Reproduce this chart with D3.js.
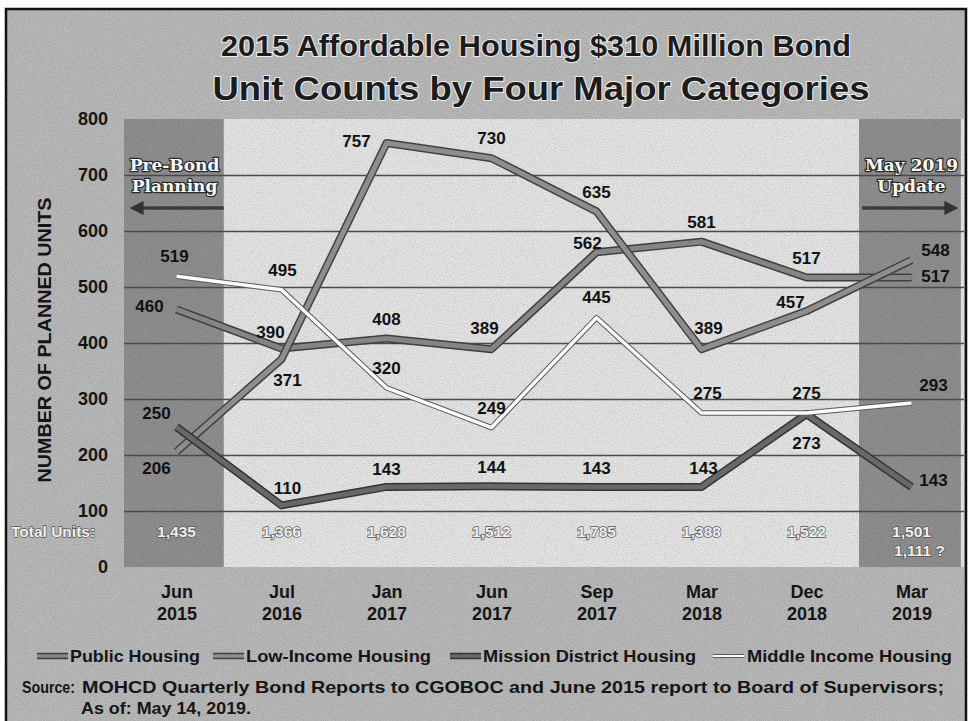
<!DOCTYPE html>
<html>
<head>
<meta charset="utf-8">
<script src="https://cdn.jsdelivr.net/npm/d3@7"></script>
<style>
  body { margin: 0; background: #fff; }
  svg text { font-family: "Liberation Sans", Arial, sans-serif; font-weight: bold; }
</style>
</head>
<body>
<div id="chart"></div>
<script>
// ---- data ----
const categories = ['Jun 2015', 'Jul 2016', 'Jan 2017', 'Jun 2017', 'Sep 2017', 'Mar 2018', 'Dec 2018', 'Mar 2019'];
const publicHousing = [460, 390, 408, 389, 562, 581, 517, 517];
const lowIncomeHousing = [206, 371, 757, 730, 635, 389, 457, 548];
const missionDistrictHousing = [250, 110, 143, 144, 143, 143, 273, 143];
const middleIncomeHousing = [519, 495, 320, 249, 445, 275, 275, 293];
const totalUnits = ['1,435', '1,366', '1,628', '1,512', '1,785', '1,388', '1,522', '1,501'];
const yTicks = [0, 100, 200, 300, 400, 500, 600, 700, 800];

const width = 971, height = 721;

const svg = d3.select('#chart').append('svg')
  .attr('width', width)
  .attr('height', height);

// scan-like grain
const defs = svg.append('defs');
const grain = defs.append('filter').attr('id', 'grain').attr('x', 0).attr('y', 0).attr('width', 1).attr('height', 1);
grain.append('feTurbulence').attr('type', 'fractalNoise').attr('baseFrequency', 0.9).attr('numOctaves', 2).attr('seed', 3);
grain.append('feColorMatrix').attr('type', 'matrix')
  .attr('values', '0 0 0 0 0  0 0 0 0 0  0 0 0 0 0  0 0 0 -1.6 1.05');

// background + frame
svg.append('rect').attr('x', 6).attr('y', 9).attr('width', 960).attr('height', 730)
  .attr('fill', '#bababa').attr('stroke', '#111').attr('stroke-width', 2.5);

const x = d3.scalePoint().domain(categories).range([124, 964]).padding(0.5);
const y = d3.scaleLinear().domain([0, 800]).range([567, 119]);
const step = x.step();

// plot area: light centre, darker bands for pre-bond and update columns
svg.append('rect')
  .attr('x', x(categories[0]) - step / 2).attr('y', y(800))
  .attr('width', x(categories[7]) - x(categories[0]) + step).attr('height', y(0) - y(800))
  .attr('fill', '#e6e6e6');
svg.append('rect')
  .attr('x', x(categories[0]) - step / 2).attr('y', y(800))
  .attr('width', step * 0.95).attr('height', y(0) - y(800))
  .attr('fill', '#909090');
svg.append('rect')
  .attr('x', x(categories[7]) - step / 2).attr('y', y(800))
  .attr('width', step * 0.97).attr('height', y(0) - y(800))
  .attr('fill', '#909090');

// grain overlay
svg.append('rect').attr('x', 7).attr('y', 10).attr('width', 958).attr('height', 711)
  .attr('filter', 'url(#grain)').attr('opacity', 0.16);

// gridlines
svg.append('g')
  .attr('transform', `translate(${x(categories[0]) - step / 2},0)`)
  .call(d3.axisLeft(y).tickValues(yTicks.filter(d => d > 0 && d < 800))
    .tickSize(-(x(categories[7]) - x(categories[0]) + step)).tickFormat(''))
  .call(g => g.select('.domain').remove())
  .call(g => g.selectAll('line').attr('stroke', '#4a4a4a').attr('stroke-width', 1.6));

// y axis labels
svg.append('g')
  .attr('transform', 'translate(113,0)')
  .call(d3.axisLeft(y).tickValues(yTicks).tickSize(0).tickPadding(5))
  .call(g => g.select('.domain').remove())
  .call(g => g.selectAll('text')
    .attr('font-size', 18).attr('fill', '#151515')
    .style('font-family', '"Liberation Sans", Arial, sans-serif').style('font-weight', 'bold'));

svg.append('text')
  .attr('transform', 'translate(51,340) rotate(-90)')
  .attr('text-anchor', 'middle')
  .attr('font-size', 19).attr('fill', '#151515')
  .attr('textLength', 285).attr('lengthAdjust', 'spacingAndGlyphs')
  .text('NUMBER OF PLANNED UNITS');

// x axis labels (month over year)
const xAxis = svg.append('g')
  .attr('transform', `translate(0,${y(0)})`)
  .call(d3.axisBottom(x).tickSize(0))
  .call(g => g.select('.domain').remove());
xAxis.selectAll('text').each(function (d) {
  const t = d3.select(this).text('').attr('y', 0).attr('dy', null)
    .attr('font-size', 18).attr('fill', '#151515')
    .style('font-family', '"Liberation Sans", Arial, sans-serif').style('font-weight', 'bold');
  const parts = d.split(' ');
  t.append('tspan').attr('x', 0).attr('y', 31).text(parts[0]);
  t.append('tspan').attr('x', 0).attr('y', 53).text(parts[1]);
});

// band captions and arrows
defs.append('marker').attr('id', 'arrow').attr('viewBox', '0 0 10 10')
  .attr('refX', 5).attr('refY', 5).attr('markerWidth', 4).attr('markerHeight', 4)
  .attr('orient', 'auto-start-reverse')
  .append('path').attr('d', 'M0,0 L10,5 L0,10 z').attr('fill', '#333');

function bandCaption(cx, lines, fromX, toX) {
  lines.forEach((s, i) => {
    svg.append('text')
      .attr('x', cx).attr('y', 171 + i * 21)
      .attr('text-anchor', 'middle')
      .attr('font-size', 17)
      .style('font-family', '"DejaVu Serif", serif')
      .attr('fill', '#fafafa').attr('stroke', '#2a2a2a').attr('stroke-width', 2.4)
      .attr('paint-order', 'stroke')
      .text(s);
  });
  svg.append('line')
    .attr('x1', fromX).attr('x2', toX).attr('y1', 208).attr('y2', 208)
    .attr('stroke', '#3c3c3c').attr('stroke-width', 3.5)
    .attr('marker-end', 'url(#arrow)');
}
bandCaption(x(categories[0]) - 2, ['Pre-Bond', 'Planning'], x(categories[0]) + step * 0.45, x(categories[0]) - step * 0.38);
bandCaption(x(categories[7]), ['May 2019', 'Update'], x(categories[7]) - step * 0.47, x(categories[7]) + step * 0.38);

// total units row
const totalStyle = sel => sel
  .attr('font-size', 15.5)
  .attr('fill', '#f0f0f0').attr('stroke', '#555').attr('stroke-width', 1.4).attr('paint-order', 'stroke');
svg.append('text').attr('x', 11).attr('y', 537).call(totalStyle).text('Total Units:');
svg.selectAll('.total').data(totalUnits).enter().append('text')
  .attr('class', 'total')
  .attr('x', (d, i) => x(categories[i]))
  .attr('y', 537)
  .attr('text-anchor', 'middle')
  .call(totalStyle)
  .text(d => d);
svg.append('text')
  .attr('x', x(categories[7]) + 8).attr('y', 556)
  .attr('text-anchor', 'middle')
  .call(totalStyle)
  .text('1,111 ?');

// series lines
const series = [
  { name: 'Public Housing', values: publicHousing, core: '#858585', edge: '#3e3e3e', w: 5, ew: 8 },
  { name: 'Low-Income Housing', values: lowIncomeHousing, core: '#8e8e8e', edge: '#424242', w: 5, ew: 8 },
  { name: 'Mission District Housing', values: missionDistrictHousing, core: '#686868', edge: '#333', w: 5, ew: 8 },
  { name: 'Middle Income Housing', values: middleIncomeHousing, core: '#fcfcfc', edge: '#5a5a5a', w: 3.5, ew: 5.5 }
];

// label offsets (dx, dy) from each point, as placed in the original
const labelOffsets = {
  'Public Housing': [[-27, -4], [-11, -17], [0, -20], [-7, -21], [-9, -9], [0, -20], [0, -20], [24, -2]],
  'Low-Income Housing': [[-20, 16], [6, 21], [-30, -2], [0, -20], [0, -20], [7, -21], [-16, -9], [24, -10]],
  'Mission District Housing': [[-20, -14], [6, -18], [0, -18], [0, -19], [0, -19], [2, -19], [0, 29], [22, -7]],
  'Middle Income Housing': [[-2, -20], [1, -20], [0, -20], [0, -20], [0, -21], [6, -20], [0, -20], [22, -18]]
};

const line = d3.line()
  .x((d, i) => x(categories[i]))
  .y(d => y(d));

series.forEach(s => {
  const g = svg.append('g');
  g.append('path').attr('d', line(s.values))
    .attr('fill', 'none').attr('stroke', s.edge).attr('stroke-width', s.ew)
    .attr('stroke-linejoin', 'round');
  g.append('path').attr('d', line(s.values))
    .attr('fill', 'none').attr('stroke', s.core).attr('stroke-width', s.w)
    .attr('stroke-linejoin', 'round');
});

series.forEach(s => {
  svg.selectAll(null).data(s.values).enter().append('text')
    .attr('x', (d, i) => x(categories[i]) + labelOffsets[s.name][i][0])
    .attr('y', (d, i) => y(d) + labelOffsets[s.name][i][1])
    .attr('dy', '0.36em')
    .attr('text-anchor', 'middle')
    .attr('font-size', 17).attr('fill', '#111')
    .text(d => d);
});

// title
svg.append('text')
  .attr('x', 536).attr('y', 56).attr('text-anchor', 'middle')
  .attr('font-size', 29).attr('fill', '#1c1c1c')
  .attr('stroke', '#eee').attr('stroke-width', 2).attr('paint-order', 'stroke')
  .attr('textLength', 630).attr('lengthAdjust', 'spacingAndGlyphs')
  .text('2015 Affordable Housing $310 Million Bond');
svg.append('text')
  .attr('x', 541).attr('y', 100).attr('text-anchor', 'middle')
  .attr('font-size', 34).attr('fill', '#1c1c1c')
  .attr('stroke', '#eee').attr('stroke-width', 2).attr('paint-order', 'stroke')
  .attr('textLength', 657).attr('lengthAdjust', 'spacingAndGlyphs')
  .text('Unit Counts by Four Major Categories');

// legend
const legendX = [37, 213, 450, 713];
const legendTextW = [130, 185, 213, 205];
series.forEach((s, i) => {
  const g = svg.append('g').attr('transform', `translate(${legendX[i]},656)`);
  g.append('line').attr('x1', 0).attr('x2', 31).attr('y1', 0).attr('y2', 0)
    .attr('stroke', s.edge).attr('stroke-width', s.ew - 1.5);
  g.append('line').attr('x1', 0).attr('x2', 31).attr('y1', 0).attr('y2', 0)
    .attr('stroke', s.core).attr('stroke-width', s.w - 1.5);
  g.append('text').attr('x', i === 3 ? 34 : 33).attr('y', 0).attr('dy', '0.36em')
    .attr('font-size', 17).attr('fill', '#151515')
    .attr('textLength', legendTextW[i]).attr('lengthAdjust', 'spacingAndGlyphs')
    .text(s.name);
});

// source note
svg.append('text').attr('x', 22).attr('y', 693)
  .attr('font-size', 17).attr('fill', '#151515')
  .attr('textLength', 53).attr('lengthAdjust', 'spacingAndGlyphs')
  .text('Source:');
svg.append('text').attr('x', 82).attr('y', 693)
  .attr('font-size', 17).attr('fill', '#151515')
  .attr('textLength', 862).attr('lengthAdjust', 'spacingAndGlyphs')
  .text('MOHCD Quarterly Bond Reports to CGOBOC and June 2015 report to Board of Supervisors;');
svg.append('text').attr('x', 81).attr('y', 714)
  .attr('font-size', 17).attr('fill', '#151515')
  .attr('textLength', 170).attr('lengthAdjust', 'spacingAndGlyphs')
  .text('As of: May 14, 2019.');
</script>
</body>
</html>
